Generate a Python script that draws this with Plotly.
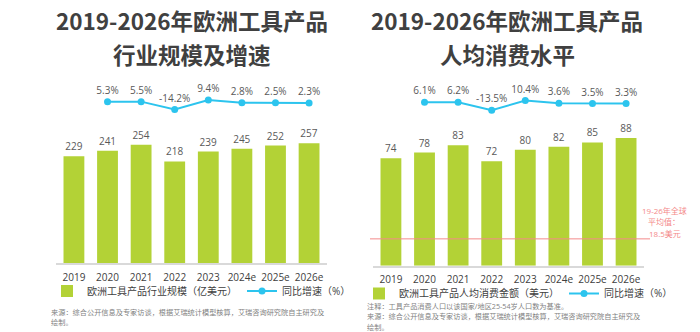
import plotly.graph_objects as go

years = ["2019", "2020", "2021", "2022", "2023", "2024e", "2025e", "2026e"]
market_size = [229, 241, 254, 218, 239, 245, 252, 257]
market_growth = [None, 5.3, 5.5, -14.2, 9.4, 2.8, 2.5, 2.3]
per_capita = [74, 78, 83, 72, 80, 82, 85, 88]
per_capita_growth = [None, 6.1, 6.2, -13.5, 10.4, 3.6, 3.5, 3.3]
global_avg = 18.5

W, H = 700, 332
def px(x):
    return x / W
def py(y):
    return 1 - y / H

BAR = "#B3D236"
LINE = "#2CC4EE"
TXT = "#404040"
LBL = "#595959"
RED = "#F48A8A"
NOTE = "#7F7F7F"
FONT = "Open Sans, Noto Sans CJK SC, sans-serif"

def fmt_pct(v):
    return "" if v is None else f"{v:.1f}%"

fig = go.Figure()

fig.add_trace(go.Bar(
    x=years, y=market_size, xaxis="x", yaxis="y",
    marker=dict(color=BAR, line=dict(width=0)),
    text=[str(v) for v in market_size], textposition="outside",
    textfont=dict(size=10, color=LBL), cliponaxis=False,
    name="欧洲工具产品行业规模（亿美元）", legend="legend",
))
fig.add_trace(go.Scatter(
    x=years, y=market_growth, xaxis="x", yaxis="y2",
    mode="lines+markers+text", line=dict(color=LINE, width=2),
    marker=dict(color=LINE, size=7),
    text=[fmt_pct(v) for v in market_growth], textposition="top center",
    textfont=dict(size=10, color=LBL), cliponaxis=False,
    name="同比增速（%）", legend="legend",
))
fig.add_trace(go.Bar(
    x=years, y=per_capita, xaxis="x2", yaxis="y3",
    marker=dict(color=BAR, line=dict(width=0)),
    text=[str(v) for v in per_capita], textposition="outside",
    textfont=dict(size=10, color=LBL), cliponaxis=False,
    name="欧洲工具产品人均消费金额（美元）", legend="legend2",
))
fig.add_trace(go.Scatter(
    x=years, y=per_capita_growth, xaxis="x2", yaxis="y4",
    mode="lines+markers+text", line=dict(color=LINE, width=2),
    marker=dict(color=LINE, size=7),
    text=[fmt_pct(v) for v in per_capita_growth], textposition="top center",
    textfont=dict(size=10, color=LBL), cliponaxis=False,
    name="同比增速（%）", legend="legend2",
))

xcommon = dict(showline=True, linecolor="#D9D9D9", linewidth=1.5, showgrid=False,
               zeroline=False, ticks="outside", ticklen=4, tickcolor="rgba(0,0,0,0)",
               tickfont=dict(size=10, color=TXT), fixedrange=True)
ycommon = dict(visible=False, showgrid=False, zeroline=False, fixedrange=True)

fig.update_layout(
    width=W, height=H, margin=dict(l=0, r=0, t=0, b=0),
    paper_bgcolor="white", plot_bgcolor="white",
    font=dict(family=FONT, color=TXT),
    bargap=0.38, showlegend=True,
    xaxis=dict(domain=[px(56), px(327)], anchor="y", **xcommon),
    yaxis=dict(domain=[py(263), py(80)], range=[0, 392.7], anchor="x", **ycommon),
    yaxis2=dict(overlaying="y", range=[-404, 60.4], anchor="x", **ycommon),
    xaxis2=dict(domain=[px(373), px(644)], anchor="y3", **xcommon),
    yaxis3=dict(domain=[py(265.7), py(80)], range=[0, 128], anchor="x2", **ycommon),
    yaxis4=dict(overlaying="y3", range=[-396.3, 61.1], anchor="x2", **ycommon),
    legend=dict(orientation="h", x=px(47), y=py(291), xanchor="left", yanchor="middle",
                font=dict(size=10, color=TXT), bgcolor="rgba(0,0,0,0)",
                itemclick=False, itemdoubleclick=False, tracegroupgap=0),
    legend2=dict(orientation="h", x=px(359), y=py(293.5), xanchor="left", yanchor="middle",
                 font=dict(size=10, color=TXT), bgcolor="rgba(0,0,0,0)",
                 itemclick=False, itemdoubleclick=False, tracegroupgap=0),
)

fig.add_shape(type="line", xref="paper", yref="y3", x0=px(370), x1=px(650),
              y0=global_avg, y1=global_avg, line=dict(color=RED, width=1))

annotations = [
    dict(text="<b>2019-2026年欧洲工具产品</b>", x=px(192), y=py(20),
         font=dict(size=22.5, color=TXT, family="Noto Sans CJK SC")),
    dict(text="<b>行业规模及增速</b>", x=px(192), y=py(53.5),
         font=dict(size=22.5, color=TXT, family="Noto Sans CJK SC")),
    dict(text="<b>2019-2026年欧洲工具产品</b>", x=px(507), y=py(20),
         font=dict(size=22.5, color=TXT, family="Noto Sans CJK SC")),
    dict(text="<b>人均消费水平</b>", x=px(507), y=py(53.5),
         font=dict(size=22.5, color=TXT, family="Noto Sans CJK SC")),
    dict(text="19-26年全球", x=px(664), y=py(210), font=dict(size=8, color=RED)),
    dict(text="平均值：", x=px(664), y=py(221.8), font=dict(size=8, color=RED)),
    dict(text=f"{global_avg}美元", x=px(665), y=py(233.6), font=dict(size=8, color=RED)),
    dict(text="来源：综合公开信息及专家访谈，根据艾瑞统计模型核算，艾瑞咨询研究院自主研究及",
         x=px(50), y=py(311.5), xanchor="left", font=dict(size=7.2, color=NOTE)),
    dict(text="绘制。", x=px(50), y=py(322.2), xanchor="left", font=dict(size=7.2, color=NOTE)),
    dict(text="注释：工具产品消费人口以该国家/地区25-54岁人口数为基准。",
         x=px(366), y=py(305.5), xanchor="left", font=dict(size=7.2, color=NOTE)),
    dict(text="来源：综合公开信息及专家访谈，根据艾瑞统计模型核算，艾瑞咨询研究院自主研究及",
         x=px(366), y=py(316), xanchor="left", font=dict(size=7.2, color=NOTE)),
    dict(text="绘制。", x=px(366), y=py(326.5), xanchor="left", font=dict(size=7.2, color=NOTE)),
]
for a in annotations:
    a.setdefault("xanchor", "center")
    fig.add_annotation(xref="paper", yref="paper", showarrow=False, yanchor="middle",
                       borderpad=0, **a)

fig.write_html("out.html")
